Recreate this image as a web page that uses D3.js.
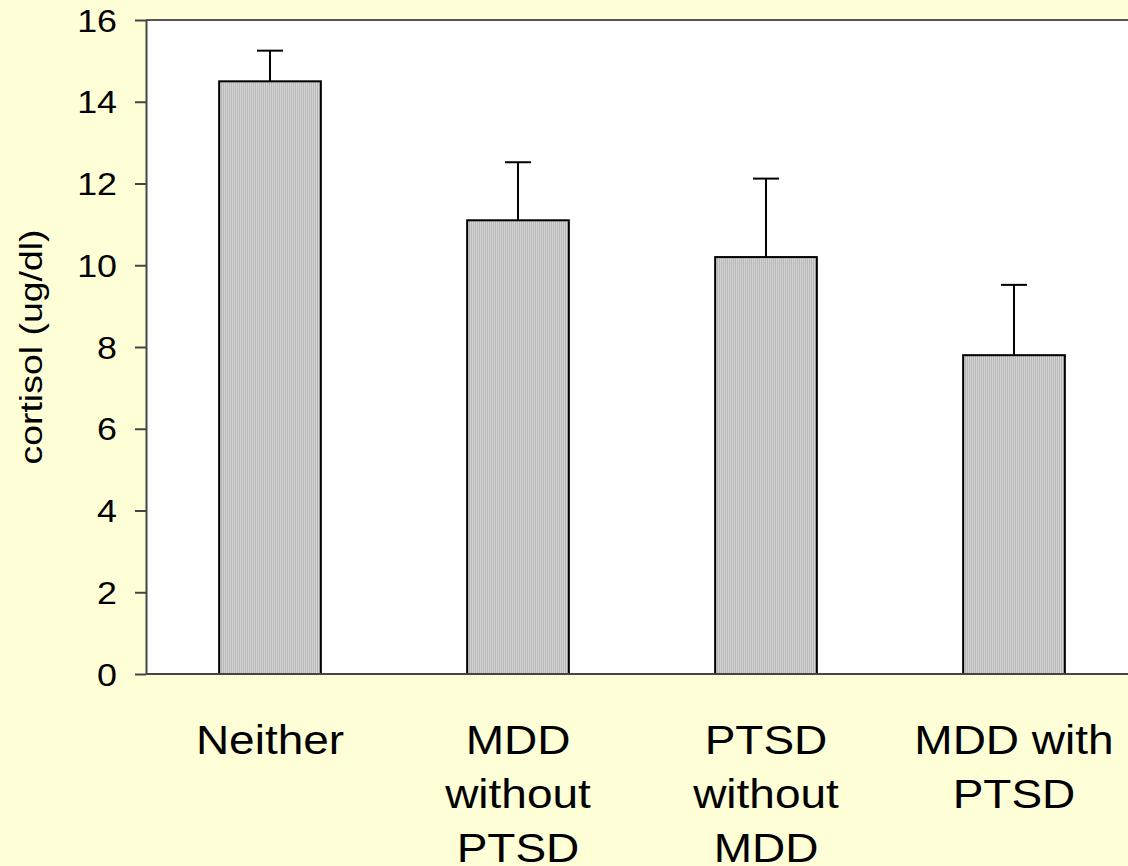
<!DOCTYPE html>
<html><head><meta charset="utf-8">
<script src="https://cdn.jsdelivr.net/npm/d3@7"></script>
<style>html,body{margin:0;padding:0;background:#FFFFD7;overflow:hidden}</style>
</head><body>
<script>
const categories = [["Neither"], ["MDD","without","PTSD"], ["PTSD","without","MDD"], ["MDD with","PTSD"]];
const means = [14.5, 11.1, 10.2, 7.8];
const errTops = [15.25, 12.52, 12.12, 9.52];
const yTicks = [0, 2, 4, 6, 8, 10, 12, 14, 16];

(function() {
const W = 1128, H = 866;
const FONT = "Liberation Sans, Arial, sans-serif";
const svg = d3.select("body").append("svg").attr("width", W).attr("height", H);
svg.append("rect").attr("width", W).attr("height", H).attr("fill", "#FFFFD7");

const mLeft = 146, mTop = 20, mBottom = 674, mRight = 1138;
const x = d3.scaleBand().domain(d3.range(categories.length)).range([mLeft, mRight]).paddingInner(0.59).paddingOuter(0.295);
const y = d3.scaleLinear().domain([0, 16]).range([mBottom, mTop]);

const defs = svg.append("defs");
const pat = defs.append("pattern").attr("id", "dots").attr("width", 2).attr("height", 2).attr("patternUnits", "userSpaceOnUse");
pat.append("rect").attr("width", 2).attr("height", 2).attr("fill", "#b8b8b8");
pat.append("rect").attr("width", 1).attr("height", 2).attr("fill", "#d4d4d4");

svg.append("rect").attr("x", mLeft).attr("y", mTop).attr("width", mRight - mLeft).attr("height", mBottom - mTop).attr("fill", "#ffffff");
svg.append("line").attr("x1", mLeft).attr("x2", mRight).attr("y1", mTop).attr("y2", mTop).attr("stroke", "#555").attr("stroke-width", 2);

const bw = x.bandwidth();
svg.selectAll(".err").data(means).join("line")
  .attr("x1", (d, i) => x(i) + bw / 2).attr("x2", (d, i) => x(i) + bw / 2)
  .attr("y1", d => y(d)).attr("y2", (d, i) => y(errTops[i]))
  .attr("stroke", "#000").attr("stroke-width", 2);
svg.selectAll(".cap").data(errTops).join("line")
  .attr("x1", (d, i) => x(i) + bw / 2 - 13).attr("x2", (d, i) => x(i) + bw / 2 + 13)
  .attr("y1", d => y(d)).attr("y2", d => y(d))
  .attr("stroke", "#000").attr("stroke-width", 2);

svg.selectAll(".bar").data(means).join("rect")
  .attr("x", (d, i) => x(i)).attr("width", bw)
  .attr("y", d => y(d)).attr("height", d => y(0) - y(d))
  .attr("fill", "url(#dots)").attr("stroke", "#000").attr("stroke-width", 2);

const ya = svg.append("g").attr("transform", `translate(${mLeft},0)`)
  .call(d3.axisLeft(y).tickValues(yTicks).tickSize(11).tickPadding(18).tickSizeOuter(0));
ya.select(".domain").attr("stroke", "#444").attr("stroke-width", 2);
ya.selectAll(".tick line").attr("stroke", "#444").attr("stroke-width", 2);
ya.selectAll(".tick text").attr("font-family", FONT).attr("font-size", 32).attr("fill", "#000")
  .attr("x", 0).attr("dy", "0.35em").attr("transform", "translate(-29,0) scale(1.12,1)");

svg.append("line").attr("x1", mLeft).attr("x2", mRight).attr("y1", mBottom).attr("y2", mBottom).attr("stroke", "#444").attr("stroke-width", 2);

svg.selectAll(".cat").data(categories).join("text")
  .attr("font-family", FONT).attr("font-size", 40).attr("fill", "#000")
  .attr("text-anchor", "middle")
  .attr("transform", (d, i) => `translate(${x(i) + bw / 2},0) scale(1.15,1)`)
  .each(function(lines) {
    d3.select(this).selectAll("tspan").data(lines).join("tspan")
      .attr("x", 0)
      .attr("y", (d, j) => 754 + j * 54)
      .text(d => d);
  });

svg.append("text").attr("transform", `translate(42,347) rotate(-90) scale(1.17,1)`)
  .attr("text-anchor", "middle").attr("font-family", FONT).attr("font-size", 32)
  .attr("fill", "#000").text("cortisol (ug/dl)");
})();
</script>
</body></html>
